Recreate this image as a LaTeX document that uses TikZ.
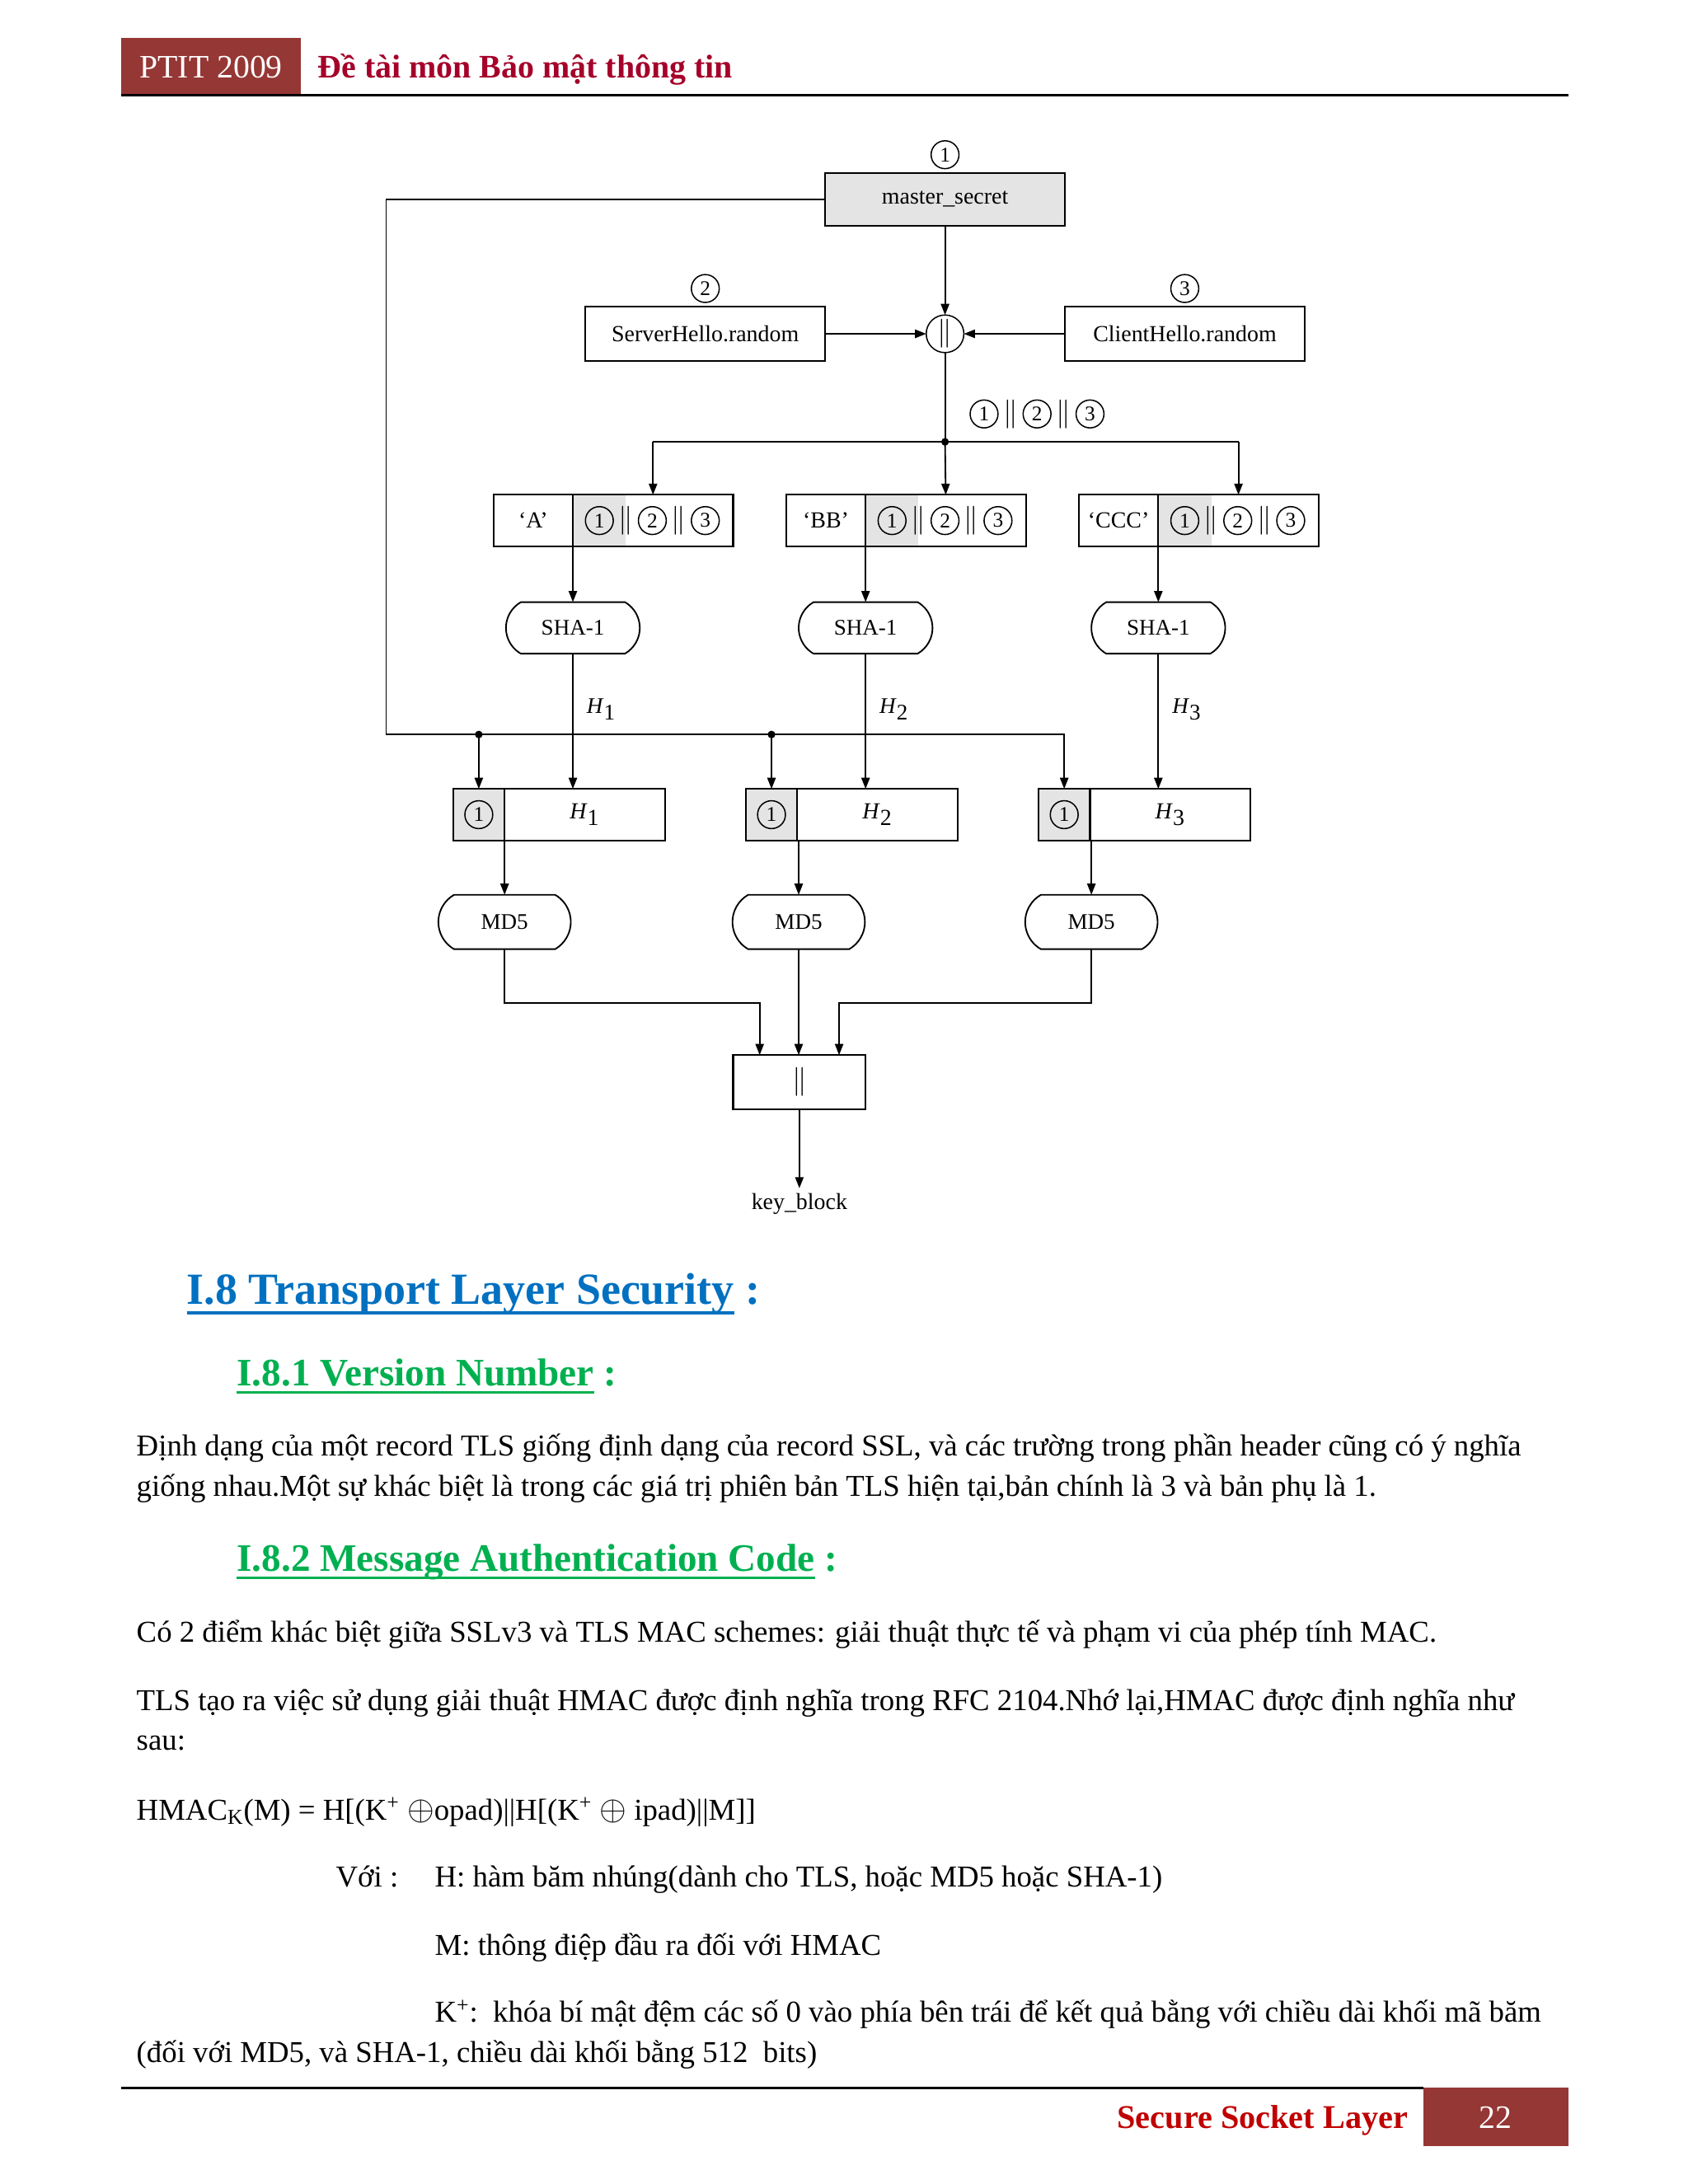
\documentclass[tikz,border=0pt]{standalone}
\usepackage{fontspec}
\setmainfont{Liberation Serif}
\usetikzlibrary{arrows.meta,shapes.geometric,shapes.misc,calc}
\definecolor{hdrbox}{HTML}{953735}
\definecolor{hdrtxt}{HTML}{A5002A}
\definecolor{ftrtxt}{HTML}{C00000}
\definecolor{secblue}{HTML}{0070C0}
\definecolor{secgreen}{HTML}{00B050}
\definecolor{cellgray}{HTML}{E4E4E4}
\newcommand{\fs}[1]{\fontsize{#1}{#1}\selectfont}
\newcommand{\Hs}[1]{\textit{H}$_{\textnormal{#1}}$}
\newcommand{\cseq}[3]{%
  \node[cnum] (#1a) at (#2,#3) {1};
  \node[dbar] (#1b) at ({#2+19},#3) {$\|$};
  \node[cnum] (#1c) at ({#2+38},#3) {2};
  \node[dbar] (#1d) at ({#2+57},#3) {$\|$};
  \node[cnum] (#1e) at ({#2+76},#3) {3};
}
\begin{document}
\begin{tikzpicture}[x=1pt,y=-1pt,
  every node/.style={inner sep=0pt, outer sep=0pt},
  arr/.style={-{Triangle[length=8pt,width=6pt]}, line width=1.1pt},
  ln/.style={line width=1.1pt},
  box/.style={draw, line width=1.3pt, font=\fs{16.5}},
  cnum/.style={draw, circle, line width=0.9pt, minimum size=20pt, font=\fs{15}},
  dbar/.style={font=\fs{20}},
  hashbox/.style={draw, rounded rectangle, rounded rectangle arc length=120, line width=1.1pt, minimum width=96pt, minimum height=37pt, font=\fs{16}},
  body/.style={anchor=base west, font=\fs{21.75}},
  sechead/.style={anchor=base west, font=\bfseries\fs{27.9}, text=secgreen},
  dot/.style={circle, fill=black, minimum size=5.5pt}
]
\fill[white] (0,0) rectangle (1211,1567);
\useasboundingbox (0,0) rectangle (1211,1567);

% ---------- header ----------
\node[fill=hdrbox, minimum width=129pt, minimum height=42pt, anchor=north west] (hbox) at (87,27) {};
\node[anchor=base, text=white, font=\fs{23.5}] (htag) at (151.5,56) {PTIT 2009};
\node[anchor=base west, text=hdrtxt, font=\bfseries\fs{23.6}] (htitle) at (228,56) {Đề tài môn Bảo mật thông tin};
\draw[line width=1.6pt] (87,68.5) -- (1125,68.5);

% ---------- diagram ----------
\node[cnum] (c1) at (678,111) {1};
\node[box, fill=cellgray, minimum width=172pt, minimum height=38pt] (ms) at (678,143) {master\_secret};
\node[cnum] (c2) at (506,207) {2};
\node[cnum] (c3) at (850,207) {3};
\node[box, minimum width=172pt, minimum height=39pt] (sh) at (506,239.5) {ServerHello.random};
\node[box, minimum width=172pt, minimum height=39pt] (ch) at (850,239.5) {ClientHello.random};
\node[draw, circle, line width=0.9pt, minimum size=27pt, font=\fs{20}] (cat) at (678,239.5) {$\|$};
\draw[arr] (ms) -- (cat);
\draw[arr] (sh) -- (cat);
\draw[arr] (ch) -- (cat);
\coordinate (bus) at (678,317);
\draw[ln] (cat) -- (bus);
\cseq{q}{706}{297}

% row 1
\node[fill=cellgray, minimum width=38pt, minimum height=36pt] (ga) at (430,373.5) {};
\node[fill=cellgray, minimum width=38pt, minimum height=36pt] (gb) at (640,373.5) {};
\node[fill=cellgray, minimum width=38pt, minimum height=36pt] (gc) at (850,373.5) {};
\node[box, minimum width=57pt, minimum height=37pt] (la) at (382.5,373.5) {‘A’};
\node[box, minimum width=115pt, minimum height=37pt] (sa) at (468.5,373.5) {};
\node[box, minimum width=57pt, minimum height=37pt] (lb) at (592.5,373.5) {‘BB’};
\node[box, minimum width=115pt, minimum height=37pt] (sb) at (678.5,373.5) {};
\node[box, minimum width=57pt, minimum height=37pt] (lcc) at (802.5,373.5) {‘CCC’};
\node[box, minimum width=115pt, minimum height=37pt] (sc) at (888.5,373.5) {};
\cseq{ra}{430}{373.5}
\cseq{rb}{640}{373.5}
\cseq{rc}{850}{373.5}
\draw[ln] (sa.north |- bus) -- (sc.north |- bus);
\draw[arr] (sa.north |- bus) -- (sa.north);
\draw[arr] (bus) -- (sb.north);
\draw[arr] (sc.north |- bus) -- (sc.north);
\node[dot] (busdot) at (bus) {};

% SHA-1
\node[hashbox] (sha1) at (411,450.5) {SHA-1};
\node[hashbox] (sha2) at (621,450.5) {SHA-1};
\node[hashbox] (sha3) at (831,450.5) {SHA-1};
\draw[arr] (sa.south west) -- (sha1.north);
\draw[arr] (sb.south west) -- (sha2.north);
\draw[arr] (sc.south west) -- (sha3.north);

% row 2
\node[box, fill=cellgray, minimum width=37pt, minimum height=37pt] (g1) at (343.5,584.5) {};
\node[box, minimum width=115pt, minimum height=37pt] (h1) at (419.5,584.5) {\Hs{1}};
\node[box, fill=cellgray, minimum width=37pt, minimum height=37pt] (g2) at (553.5,584.5) {};
\node[box, minimum width=115pt, minimum height=37pt] (h2) at (629.5,584.5) {\Hs{2}};
\node[box, fill=cellgray, minimum width=37pt, minimum height=37pt] (g3) at (763.5,584.5) {};
\node[box, minimum width=115pt, minimum height=37pt] (h3) at (839.5,584.5) {\Hs{3}};
\node[cnum] (g1n) at (g1) {1};
\node[cnum] (g2n) at (g2) {1};
\node[cnum] (g3n) at (g3) {1};

\draw[arr] (sha1.south) -- (sha1.south |- h1.north);
\draw[arr] (sha2.south) -- (sha2.south |- h2.north);
\draw[arr] (sha3.south) -- (sha3.south |- h3.north);
\node[anchor=west, font=\fs{16}] (lh1) at (421,509) {\Hs{1}};
\node[anchor=west, font=\fs{16}] (lh2) at (631,509) {\Hs{2}};
\node[anchor=west, font=\fs{16}] (lh3) at (841,509) {\Hs{3}};

\coordinate (lc) at (277,527);
\draw[arr] (ms.west) -| (lc) -| (g3.north);
\draw[arr] (g1.north |- lc) -- (g1.north);
\draw[arr] (g2.north |- lc) -- (g2.north);
\node[dot] (d1) at (g1.north |- lc) {};
\node[dot] (d2) at (g2.north |- lc) {};

% MD5
\node[hashbox, minimum width=95pt, minimum height=39pt] (md1) at (362,661.5) {MD5};
\node[hashbox, minimum width=95pt, minimum height=39pt] (md2) at (573,661.5) {MD5};
\node[hashbox, minimum width=95pt, minimum height=39pt] (md3) at (783,661.5) {MD5};
\draw[arr] (g1.south east) -- (md1.north);
\draw[arr] (md2.north |- g2.south) -- (md2.north);
\draw[arr] (md3.north |- g3.south) -- (md3.north);

\node[box, minimum width=95pt, minimum height=39pt, font=\fs{20}] (kb) at (573.5,776.5) {$\|$};
\coordinate (j1) at (545,719.5);
\coordinate (j3) at (602,719.5);
\draw[arr] (md1.south) |- (j1) -- (j1 |- kb.north);
\draw[arr] (md2.south) -- (md2.south |- kb.north);
\draw[arr] (md3.south) |- (j3) -- (j3 |- kb.north);
\node[anchor=base, font=\fs{16.5}] (kbl) at (573.5,868) {key\_block};
\draw[arr] (kb.south) -- ($(kb.south |- kbl.north)+(0,-4)$);

% ---------- text ----------
\node[anchor=base west, text=secblue, font=\bfseries\fs{31.9}] (s18) at (134,936) {I.8 Transport Layer Security};
\node[anchor=base west, text=secblue, font=\bfseries\fs{31.9}] (s18c) at ($(s18.base east)+(8,0)$) {:};
\draw[secblue, line width=2pt] ($(s18.base west)+(0,6)$) -- ($(s18.base east)+(0,6)$);

\node[sechead] (s181) at (170,994.5) {I.8.1 Version Number};
\node[sechead] (s181c) at ($(s181.base east)+(7,0)$) {:};
\draw[secgreen, line width=2pt] ($(s181.base west)+(0,4.5)$) -- ($(s181.base east)+(0,4.5)$);

\node[body] (p1) at (98,1044.7) {Định dạng của một record TLS giống định dạng của record SSL, và các trường trong phần header cũng có ý nghĩa};
\node[body] (p2) at (98,1073.3) {giống nhau.Một sự khác biệt là trong các giá trị phiên bản TLS hiện tại,bản chính là 3 và bản phụ là 1.};

\node[sechead] (s182) at (170,1127.5) {I.8.2 Message Authentication Code};
\node[sechead] (s182c) at ($(s182.base east)+(7,0)$) {:};
\draw[secgreen, line width=2pt] ($(s182.base west)+(0,4.5)$) -- ($(s182.base east)+(0,4.5)$);

\node[body] (p3) at (98,1178.3) {Có 2 điểm khác biệt giữa SSLv3 và TLS MAC schemes: giải thuật thực tế và phạm vi của phép tính MAC.};
\node[body] (p4) at (98,1227) {TLS tạo ra việc sử dụng giải thuật HMAC được định nghĩa trong RFC 2104.Nhớ lại,HMAC được định nghĩa như};
\node[body] (p5) at (98,1255.5) {sau:};
\node[body] (p6) at (98,1305.8) {HMAC\textsubscript{K}(M) = H[(K\textsuperscript{+} {\fs{26}$\oplus$}opad)||H[(K\textsuperscript{+} {\fs{26}$\oplus$} ipad)||M]]};
\node[body] (p7a) at (241,1354) {Với :};
\node[body] (p7) at (312,1354) {H: hàm băm nhúng(dành cho TLS, hoặc MD5 hoặc SHA-1)};
\node[body] (p8) at (312,1403) {M: thông điệp đầu ra đối với HMAC};
\node[body] (p9) at (312,1451) {K\textsuperscript{+}:\ \ khóa bí mật đệm các số 0 vào phía bên trái để kết quả bằng với chiều dài khối mã băm};
\node[body] (p10) at (98,1479.5) {(đối với MD5, và SHA-1, chiều dài khối bằng 512\ \ bits)};

% ---------- footer ----------
\draw[line width=1.6pt] (87,1498) -- (1021,1498);
\node[fill=hdrbox, anchor=north west, minimum width=104pt, minimum height=42pt] (fbox) at (1021,1498) {};
\node[anchor=base, text=white, font=\fs{23.5}] (pnum) at (1073,1527) {22};
\node[anchor=base east, text=ftrtxt, font=\bfseries\fs{23.8}] (ftitle) at (1010,1527) {Secure Socket Layer};
\end{tikzpicture}
\end{document}
